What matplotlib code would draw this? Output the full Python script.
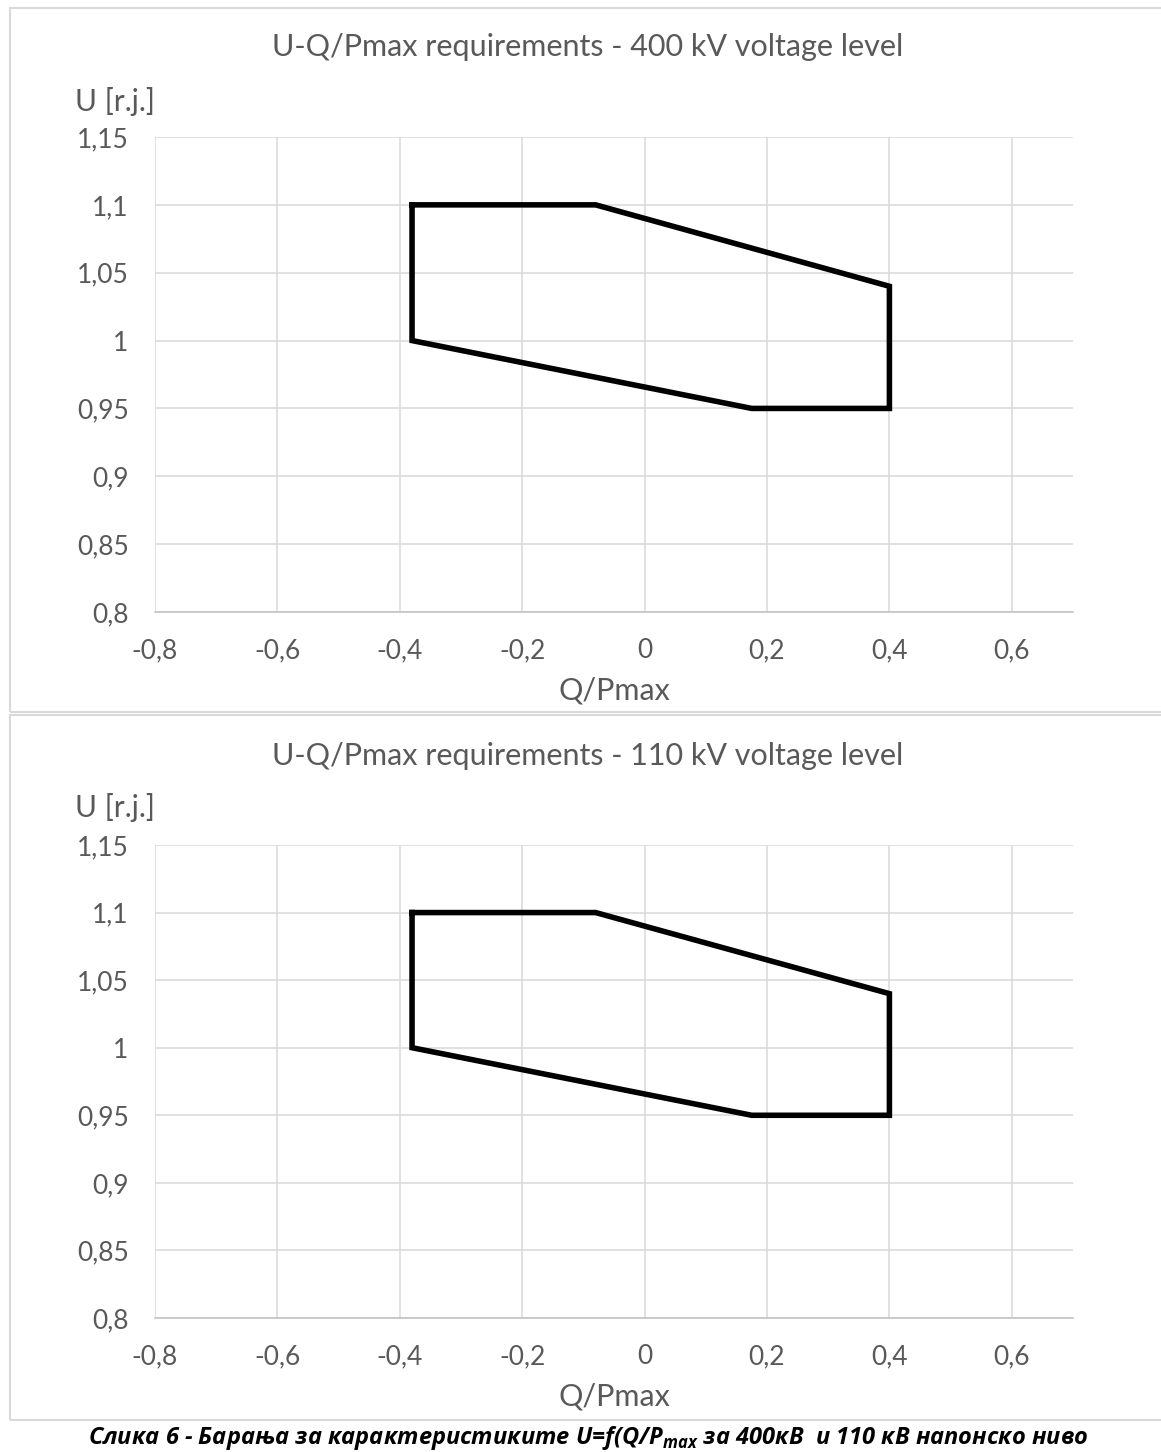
import matplotlib
matplotlib.use("Agg")
import matplotlib.pyplot as plt
from matplotlib.patches import Rectangle

# polygon of the U-Q/Pmax requirement, one per voltage level
q_400 = [-0.38, -0.08, 0.40, 0.40, 0.175, -0.38, -0.38]
u_400 = [1.10, 1.10, 1.04, 0.95, 0.95, 1.00, 1.10]
q_110 = [-0.38, -0.08, 0.40, 0.40, 0.175, -0.38, -0.38]
u_110 = [1.10, 1.10, 1.04, 0.95, 0.95, 1.00, 1.10]

x_ticks = [-0.8, -0.6, -0.4, -0.2, 0.0, 0.2, 0.4, 0.6]
x_labels = ["-0,8", "-0,6", "-0,4", "-0,2", "0", "0,2", "0,4", "0,6"]
y_ticks = [0.8, 0.85, 0.9, 0.95, 1.0, 1.05, 1.1, 1.15]
y_labels = ["0,8", "0,85", "0,9", "0,95", "1", "1,05", "1,1", "1,15"]

titles = ["U-Q/Pmax requirements - 400 kV voltage level",
          "U-Q/Pmax requirements - 110 kV voltage level"]
caption = "Слика 6 - Барања за карактеристиките U=f(Q/P$_{\\mathregular{max}}$ за 400кВ  и 110 кВ напонско ниво"

W, H = 1161, 1452
plt.rcParams['font.family'] = ['Lato', 'DejaVu Sans']
grey = "#595959"
grid_c = "#d9d9d9"

fig = plt.figure(figsize=(W / 100, H / 100), dpi=100)


def fx(x):
    return x / W


def fy(y):
    return 1 - y / H


panels = [
    dict(q=q_400, u=u_400, top=137, bottom=612, frame=(8, 712), title_y=47,
         ylab_y=101, xlab_y=690),
    dict(q=q_110, u=u_110, top=845, bottom=1318, frame=(715, 1420), title_y=756,
         ylab_y=808, xlab_y=1397),
]

for p, title in zip(panels, titles):
    # light frame around each chart
    f0, f1 = p["frame"]
    fig.patches.append(Rectangle((fx(10), fy(f1)), fx(1170), (f1 - f0) / H,
                                 transform=fig.transFigure, fill=False,
                                 edgecolor=grid_c, linewidth=1.5))

    ax = fig.add_axes([fx(155), fy(p["bottom"]), fx(1073 - 155),
                       (p["bottom"] - p["top"]) / H])
    ax.plot(p["q"], p["u"], color="black", linewidth=4, solid_joinstyle="miter")
    ax.set_xlim(-0.8, 0.7)
    ax.set_ylim(0.8, 1.15)
    ax.set_xticks(x_ticks)
    ax.set_xticklabels(x_labels)
    ax.set_yticks(y_ticks)
    ax.set_yticklabels(y_labels)
    ax.grid(True, color=grid_c, linewidth=1.1)
    ax.set_axisbelow(True)
    for s in ["top", "right", "left"]:
        ax.spines[s].set_visible(False)
    ax.spines["bottom"].set_color("#bfbfbf")
    ax.spines["bottom"].set_linewidth(1.1)
    ax.tick_params(length=0, labelsize=19, labelcolor=grey)
    ax.tick_params(axis="x", pad=19)
    ax.tick_params(axis="y", pad=19)

    fig.text(fx(588), fy(p["title_y"]), title, ha="center", va="center",
             fontsize=22, color=grey)
    fig.text(fx(75), fy(p["ylab_y"]), "U [r.j.]", ha="left", va="center",
             fontsize=21.5, color=grey)
    fig.text(fx(614), fy(p["xlab_y"]), "Q/Pmax", ha="center", va="center",
             fontsize=22, color=grey)

fig.text(fx(588), fy(1438), caption, ha="center", va="center", fontsize=17,
         fontweight="bold", fontstyle="italic", color="black",
         family=['Liberation Sans Narrow', 'Open Sans', 'DejaVu Sans'])

fig.savefig("out.png", dpi=100, facecolor="white")
